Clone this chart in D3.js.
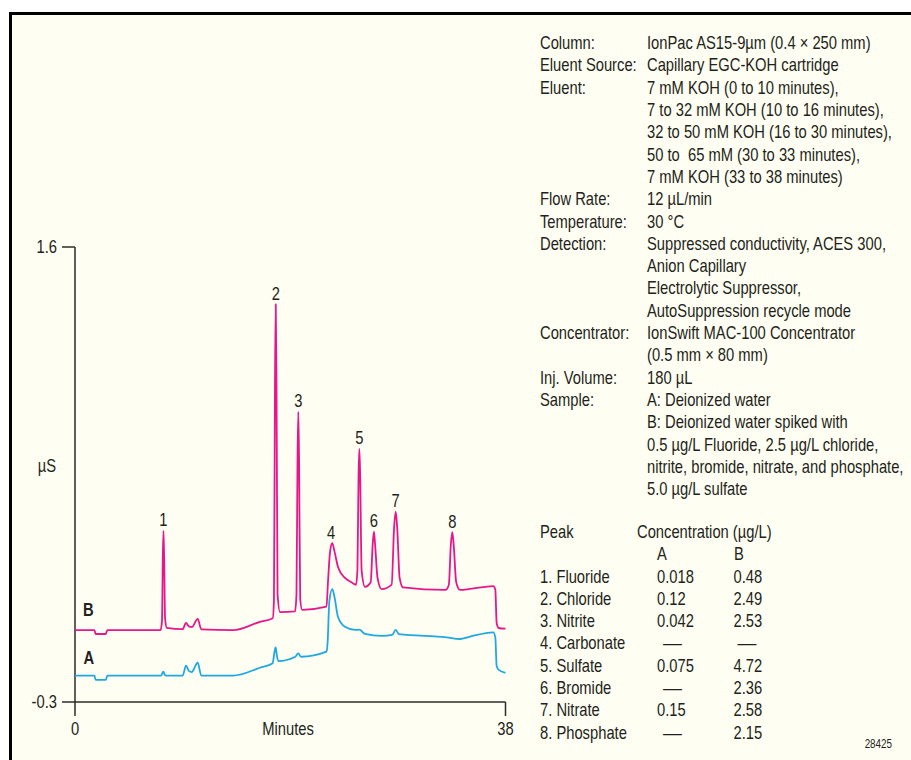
<!DOCTYPE html>
<html>
<head>
<meta charset="utf-8">
<script src="https://cdn.jsdelivr.net/npm/d3@7"></script>
<style>
body{margin:0;background:#fff;}
svg{display:block;}
text{font-family:"Liberation Sans Narrow","Liberation Sans",Arial,sans-serif;fill:#231f20;white-space:pre;}
</style>
</head>
<body>
<svg id="chart" width="911" height="760"></svg>
<script>
// chromatogram traces, [minutes, µS]
var traceB=[
[0,0],[1.72,0],[1.82,-0.016],[2.72,-0.016],[2.85,0],
[7.55,0],[7.68,0.04],[7.75,0.3],[7.81,0.415],[7.87,0.3],[7.95,0.05],[8.1,0.01],
[9.5,0.004],[9.8,0.03],[10.05,0.016],[10.33,0.013],[10.83,0.047],[11.15,0.003],
[13.95,0],[16.33,0.035],[17.45,0.05],
[17.56,0.12],[17.65,1.0],[17.72,1.361],[17.79,1.0],[17.88,0.15],[18.1,0.075],
[19.42,0.078],
[19.55,0.15],[19.64,0.7],[19.71,0.912],[19.78,0.7],[19.88,0.13],[20.05,0.085],
[22.2,0.098],
[22.33,0.2],[22.52,0.33],[22.71,0.363],[22.9,0.33],[23.21,0.265],[23.83,0.218],[24.4,0.2],[24.8,0.189],
[24.93,0.25],[25.03,0.65],[25.1,0.757],[25.17,0.65],[25.3,0.25],[25.6,0.181],
[26.1,0.2],[26.28,0.36],[26.39,0.411],[26.5,0.35],[26.7,0.22],[27.07,0.171],
[27.95,0.19],[28.17,0.43],[28.31,0.495],[28.45,0.42],[28.65,0.22],[28.95,0.179],
[32.7,0.168],
[33.0,0.19],[33.18,0.36],[33.3,0.409],[33.42,0.36],[33.65,0.2],[33.98,0.168],
[34.87,0.172],[36.92,0.184],[37.1,0.17],[37.22,0.03],[37.4,0.009],[38,0.006]
];

var traceA=[
[0,-0.19],[1.72,-0.19],[1.82,-0.208],[2.72,-0.208],[2.85,-0.19],
[7.6,-0.19],[7.75,-0.176],[7.81,-0.173],[7.9,-0.185],[8.05,-0.19],
[9.5,-0.19],[9.8,-0.148],[10.05,-0.17],[10.3,-0.175],[10.83,-0.136],[11.15,-0.19],
[13.95,-0.19],[16.33,-0.157],[17.45,-0.138],
[17.58,-0.1],[17.68,-0.075],[17.72,-0.072],[17.8,-0.1],[17.95,-0.129],
[19.45,-0.111],[19.71,-0.097],[19.95,-0.111],
[22.2,-0.09],[22.3,-0.05],[22.45,0.12],[22.71,0.171],[22.9,0.14],[23.21,0.056],[23.83,0.014],
[24.72,0.001],[25.1,0.002],[25.6,-0.016],[27.07,-0.024],[28.0,-0.02],[28.31,0.001],[28.6,-0.017],
[32.81,-0.03],[33.98,-0.037],[34.87,-0.027],[36.92,-0.009],[37.1,-0.03],[37.22,-0.15],[37.4,-0.166],[38,-0.178]
];

var peakIds=["1","2","3","4","5","6","7","8"];
var peakTimes=[7.81,17.72,19.71,22.6,25.1,26.39,28.31,33.3];
var peakTops=[0.415,1.361,0.912,0.363,0.757,0.411,0.495,0.409];

var yTicks=[-0.3,1.6];
var xTicks=[0,38];

var condLabels=["Column:","Eluent Source:","Eluent:","Flow Rate:","Temperature:","Detection:","Concentrator:","Inj. Volume:","Sample:"];
var condValues=[
["IonPac AS15-9µm (0.4 × 250 mm)"],
["Capillary EGC-KOH cartridge"],
["7 mM KOH (0 to 10 minutes),","7 to 32 mM KOH (10 to 16 minutes),","32 to 50 mM KOH (16 to 30 minutes),","50 to  65 mM (30 to 33 minutes),","7 mM KOH (33 to 38 minutes)"],
["12 µL/min"],
["30 °C"],
["Suppressed conductivity, ACES 300,","Anion Capillary","Electrolytic Suppressor,","AutoSuppression recycle mode"],
["IonSwift MAC-100 Concentrator","(0.5 mm × 80 mm)"],
["180 µL"],
["A: Deionized water","B: Deionized water spiked with","0.5 µg/L Fluoride, 2.5 µg/L chloride,","nitrite, bromide, nitrate, and phosphate,","5.0 µg/L sulfate"]
];

var peakNames=["1. Fluoride","2. Chloride","3. Nitrite","4. Carbonate","5. Sulfate","6. Bromide","7. Nitrate","8. Phosphate"];
var concA=["0.018","0.12","0.042","—","0.075","—","0.15","—"];
var concB=["0.48","2.49","2.53","—","4.72","2.36","2.58","2.15"];

// no narrow face installed: squeeze the regular one
var squeeze=0.82;
function at(x,y,sx){
	return "translate("+x+","+y+") scale("+(sx||squeeze)+",1)"
}

var svg=d3.select("#chart");

svg.append("rect")
.attr("x",10.5).attr("y",13.5)
.attr("width",905).attr("height",760)
.attr("fill","#fefef2")
svg.append("path")
.attr("d","M10.5,765V13.5H915")
.attr("fill","none")
.attr("stroke","#000")
.attr("stroke-width",3)

var xScale=d3.scaleLinear().domain([0,38]).range([75,505.5]);
var yScale=d3.scaleLinear().domain([-0.3,1.6]).range([702,247]);

var axes=svg.append("g").attr("stroke","#2b2b2b").attr("stroke-width",1.5).attr("fill","none");

// y axis runs down past the x axis as the 0 tick
axes.append("line")
.attr("x1",xScale(0)).attr("x2",xScale(0))
.attr("y1",yScale(1.6)).attr("y2",yScale(-0.3)+14)
axes.append("line")
.attr("x1",xScale(0)-13).attr("x2",xScale(38))
.attr("y1",yScale(-0.3)).attr("y2",yScale(-0.3))
axes.append("line")
.attr("x1",xScale(0)-13).attr("x2",xScale(0))
.attr("y1",yScale(1.6)).attr("y2",yScale(1.6))
axes.append("line")
.attr("x1",xScale(38)).attr("x2",xScale(38))
.attr("y1",yScale(-0.3)).attr("y2",yScale(-0.3)+14)

svg.selectAll(".ytick")
.data(yTicks)
.enter()
.append("text")
.classed("ytick",true)
.attr("transform",d=>at(57,yScale(d)))
.attr("dy","0.36em")
.attr("text-anchor","end")
.attr("font-size","18px")
.text(d=>d)

svg.selectAll(".xtick")
.data(xTicks)
.enter()
.append("text")
.classed("xtick",true)
.attr("transform",d=>at(xScale(d),729))
.attr("dy","0.36em")
.attr("text-anchor","middle")
.attr("font-size","18px")
.text(d=>d)

svg.append("text")
.attr("transform",at(288,729)).attr("dy","0.36em")
.attr("text-anchor","middle").attr("font-size","18px")
.text("Minutes")

svg.append("text")
.attr("transform",at(56,466)).attr("dy","0.36em")
.attr("text-anchor","end").attr("font-size","18px")
.text("µS")

var line=d3.line()
.x(d=>xScale(d[0]))
.y(d=>yScale(d[1]))
.curve(d3.curveMonotoneX)

svg.append("path")
.datum(traceA)
.attr("d",line)
.attr("fill","none")
.attr("stroke","#1fa8e2")
.attr("stroke-width",1.8)
.attr("stroke-linejoin","round")

svg.append("path")
.datum(traceB)
.attr("d",line)
.attr("fill","none")
.attr("stroke","#e8168b")
.attr("stroke-width",1.8)
.attr("stroke-linejoin","round")

svg.append("text")
.attr("transform",at(83,610)).attr("dy","0.36em")
.attr("font-size","18px").attr("font-weight","bold")
.text("B")
svg.append("text")
.attr("transform",at(83.5,657.5)).attr("dy","0.36em")
.attr("font-size","18px").attr("font-weight","bold")
.text("A")

svg.selectAll(".peakLabel")
.data(peakIds)
.enter()
.append("text")
.classed("peakLabel",true)
.attr("transform",(d,i)=>at(xScale(peakTimes[i]),yScale(peakTops[i])-11))
.attr("dy","0.36em")
.attr("text-anchor","middle")
.attr("font-size","18px")
.text(d=>d)

// conditions block
var lineH=22.3;
var row=0;
var cond=svg.append("g").attr("font-size","18px");
condLabels.forEach((lab,i)=>{
	cond.append("text")
	.attr("transform",at(540,42.7+row*lineH)).attr("dy","0.36em")
	.text(lab)
	condValues[i].forEach(v=>{
		cond.append("text")
		.attr("transform",at(647,42.7+row*lineH)).attr("dy","0.36em")
		.text(v)
		row++
	})
})

// concentration table
var tbl=svg.append("g").attr("font-size","18px");
var tTop=531.5;
tbl.append("text").attr("transform",at(540,tTop)).attr("dy","0.36em").text("Peak")
tbl.append("text").attr("transform",at(637,tTop)).attr("dy","0.36em").text("Concentration (µg/L)")
tbl.append("text").attr("transform",at(657,tTop+lineH)).attr("dy","0.36em").text("A")
tbl.append("text").attr("transform",at(734,tTop+lineH)).attr("dy","0.36em").text("B")

tbl.selectAll(".pname")
.data(peakNames)
.enter()
.append("text")
.attr("transform",(d,i)=>at(540,tTop+(i+2)*lineH))
.attr("dy","0.36em")
.text(d=>d)

// dashes are drawn a bit wider than the squeezed face gives
tbl.selectAll(".ca")
.data(concA)
.enter()
.append("text")
.attr("transform",(d,i)=>d==="—"?at(672.5,tTop+(i+2)*lineH,1.05):at(657,tTop+(i+2)*lineH))
.attr("text-anchor",d=>d==="—"?"middle":"start")
.attr("dy","0.36em")
.text(d=>d)

tbl.selectAll(".cb")
.data(concB)
.enter()
.append("text")
.attr("transform",(d,i)=>d==="—"?at(747,tTop+(i+2)*lineH,1.05):at(733.5,tTop+(i+2)*lineH))
.attr("text-anchor",d=>d==="—"?"middle":"start")
.attr("dy","0.36em")
.text(d=>d)

svg.append("text")
.attr("transform",at(892,743.5)).attr("dy","0.36em")
.attr("text-anchor","end").attr("font-size","12px")
.text("28425")
</script>
</body>
</html>
